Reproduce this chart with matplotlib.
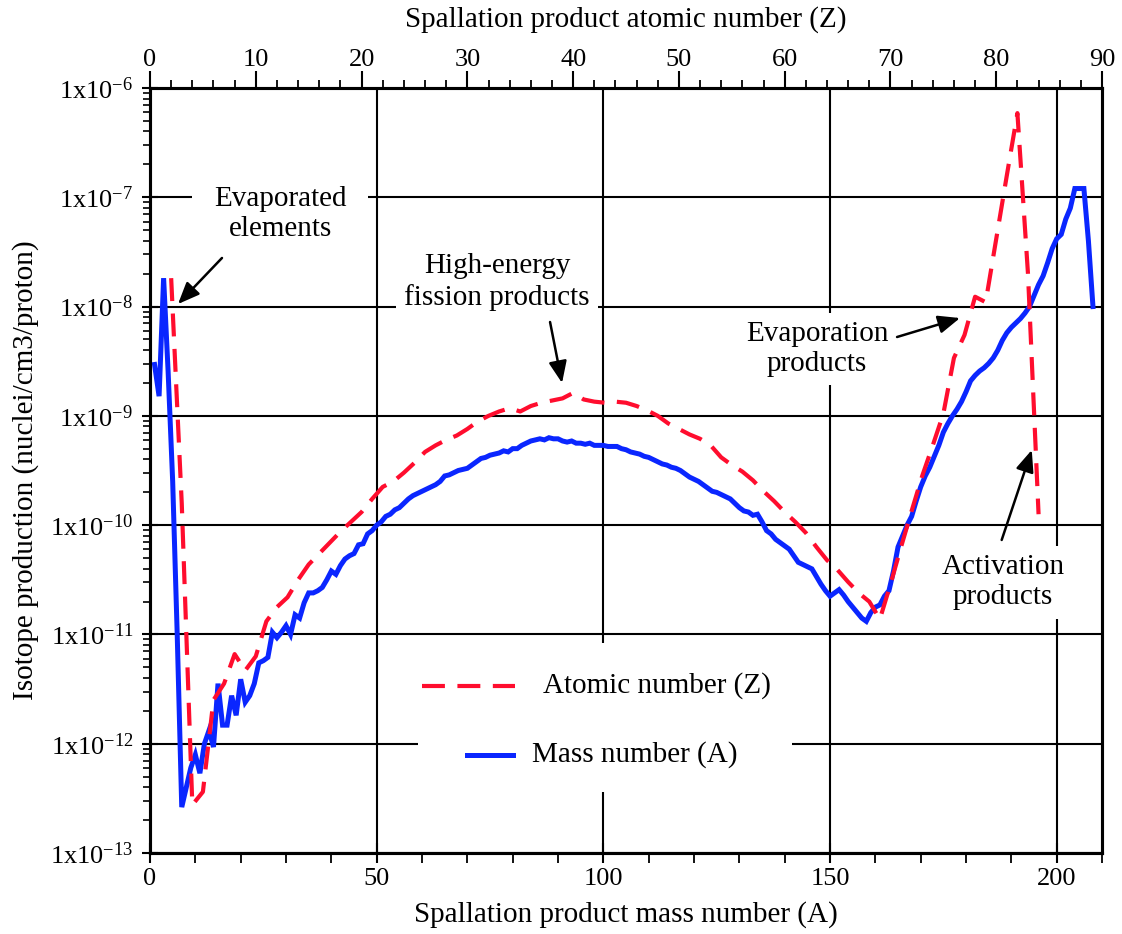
import numpy as np
import matplotlib
matplotlib.use("Agg")
import matplotlib.pyplot as plt
from matplotlib.ticker import FixedLocator, FixedFormatter, LogLocator, NullFormatter, MultipleLocator
from matplotlib.lines import Line2D
from matplotlib.patches import Rectangle

plt.rcParams['font.family'] = ['Liberation Serif', 'DejaVu Serif']
plt.rcParams['mathtext.fontset'] = 'custom'
plt.rcParams['mathtext.rm'] = 'Liberation Serif'
plt.rcParams['mathtext.it'] = 'Liberation Serif:italic'

# ---- data: log10 of isotope production (nuclei/cm3/proton) ----
mass_number = np.arange(1, 209)
mass_log10 = [
    -8.53, -8.82, -7.74, -8.60, -9.60, -11.00, -12.58, -12.40, -12.22, -12.10,
    -12.27, -12.00, -11.88, -12.03, -11.45, -11.83, -11.83, -11.56, -11.74, -11.41,
    -11.62, -11.56, -11.45, -11.26, -11.24, -11.21, -10.98, -11.03, -10.98, -10.92,
    -11.00, -10.82, -10.85, -10.71, -10.62, -10.62, -10.60, -10.57, -10.50, -10.42,
    -10.45, -10.37, -10.31, -10.28, -10.26, -10.18, -10.17, -10.08, -10.05, -10.00,
    -9.97, -9.92, -9.90, -9.86, -9.84, -9.80, -9.76, -9.73, -9.71, -9.69,
    -9.67, -9.65, -9.63, -9.60, -9.55, -9.54, -9.52, -9.50, -9.49, -9.48,
    -9.45, -9.42, -9.39, -9.38, -9.36, -9.35, -9.34, -9.32, -9.33, -9.30,
    -9.30, -9.27, -9.25, -9.23, -9.22, -9.21, -9.22, -9.20, -9.21, -9.21,
    -9.23, -9.24, -9.23, -9.25, -9.25, -9.26, -9.25, -9.27, -9.27, -9.27,
    -9.28, -9.28, -9.28, -9.30, -9.31, -9.33, -9.34, -9.35, -9.37, -9.38,
    -9.40, -9.42, -9.44, -9.45, -9.47, -9.48, -9.50, -9.53, -9.56, -9.58,
    -9.60, -9.63, -9.66, -9.69, -9.70, -9.72, -9.74, -9.76, -9.80, -9.84,
    -9.87, -9.88, -9.91, -9.90, -9.97, -10.05, -10.08, -10.13, -10.16, -10.19,
    -10.22, -10.28, -10.34, -10.36, -10.38, -10.40, -10.47, -10.54, -10.60, -10.65,
    -10.62, -10.59, -10.64, -10.70, -10.75, -10.80, -10.85, -10.88, -10.80, -10.75,
    -10.73, -10.65, -10.60, -10.42, -10.20, -10.10, -10.00, -9.92, -9.78, -9.65,
    -9.55, -9.47, -9.37, -9.27, -9.15, -9.07, -9.00, -8.94, -8.87, -8.78,
    -8.68, -8.63, -8.59, -8.56, -8.52, -8.47, -8.40, -8.31, -8.24, -8.19,
    -8.15, -8.11, -8.06, -8.00, -7.90, -7.80, -7.72, -7.60, -7.47, -7.38,
    -7.34, -7.20, -7.10, -6.92, -6.92, -6.92, -7.40, -8.00,
]

atomic_number = np.arange(2, 85)
atomic_log10 = [
    -7.74, -9.80, -12.56, -12.44, -11.60, -11.45, -11.18, -11.33, -11.20,
    -10.88, -10.75, -10.66, -10.50, -10.36, -10.26, -10.16, -10.06, -9.97, -9.88,
    -9.76, -9.65, -9.60, -9.52, -9.43, -9.33, -9.27, -9.22, -9.18, -9.12,
    -9.05, -9.00, -8.96, -8.93, -8.96, -8.91, -8.88, -8.86, -8.84, -8.79,
    -8.85, -8.87, -8.88, -8.87, -8.88, -8.91, -8.95, -9.00, -9.07, -9.12,
    -9.17, -9.21, -9.27, -9.38, -9.45, -9.51, -9.59, -9.69, -9.78, -9.88,
    -9.97, -10.07, -10.20, -10.32, -10.41, -10.52, -10.62, -10.70, -10.86, -10.54,
    -10.20, -9.87, -9.55, -9.27, -8.98, -8.47, -8.26, -7.91, -7.96, -7.38,
    -6.80, -6.23, -7.70, -9.90,
]

decades = np.arange(-13, -5)
y_tick_labels = [r'$\mathregular{1x10^{%d}}$' % d for d in decades]
a_ticks = [0, 50, 100, 150, 200]
z_ticks = list(range(0, 91, 10))

mass_values = 10.0 ** np.asarray(mass_log10)
atomic_values = 10.0 ** np.asarray(atomic_log10)

RED = '#ff0d2e'
BLUE = '#0a26ff'

fig = plt.figure(figsize=(11.22, 9.34), dpi=100)
ax = fig.add_axes([0.1337, 0.0867, 0.8485, 0.8191])

ax.set_yscale('log')
ax.set_ylim(1e-13, 1e-6)
ax.set_xlim(0, 210)
ax.yaxis.set_major_locator(FixedLocator(10.0 ** decades))
ax.yaxis.set_major_formatter(FixedFormatter(y_tick_labels))
ax.yaxis.set_minor_locator(LogLocator(base=10, subs=np.arange(2, 10), numticks=20))
ax.yaxis.set_minor_formatter(NullFormatter())
ax.xaxis.set_major_locator(FixedLocator(a_ticks))
ax.xaxis.set_minor_locator(MultipleLocator(10))

ax.grid(True, which='major', color='black', lw=1.5, zorder=0)
ax.set_axisbelow(True)

for sp in ax.spines.values():
    sp.set_linewidth(2.2)

ax.tick_params(axis='x', which='major', direction='inout', length=14, width=1.5,
               labelsize=19, pad=4, top=False)
ax.tick_params(axis='x', which='minor', direction='out', length=7, width=1.3, top=False)
ax.tick_params(axis='y', which='major', direction='inout', length=12, width=1.5,
               labelsize=19, pad=6, right=False)
ax.tick_params(axis='y', which='minor', direction='out', length=5, width=1.2, right=False)

ax.set_xlabel('Spallation product mass number (A)', fontsize=21, labelpad=8)
ax.set_ylabel('Isotope production (nuclei/cm3/proton)', fontsize=21, labelpad=8)

ax.plot(mass_number, mass_values, color=BLUE, lw=3.6, solid_joinstyle='miter', zorder=3)

ax2 = ax.twiny()
ax2.set_xlim(0, 90)
ax2.xaxis.set_major_locator(FixedLocator(z_ticks))
ax2.xaxis.set_minor_locator(MultipleLocator(2))
ax2.tick_params(axis='x', which='major', direction='out', length=12, width=1.5,
                labelsize=19, pad=0)
ax2.tick_params(axis='x', which='minor', direction='out', length=6, width=1.3)
ax2.set_xlabel('Spallation product atomic number (Z)', fontsize=21, labelpad=16)
for sp in ax2.spines.values():
    sp.set_linewidth(2.2)

ax2.plot(atomic_number, atomic_values, color=RED, lw=3.0, dashes=(5.5, 3.0), zorder=3)

# ---- annotations ----
box = dict(facecolor='white', edgecolor='none', pad=6)
wide_box = dict(facecolor='white', edgecolor='none', pad=16)
arrow = dict(arrowstyle='-|>,head_length=0.6,head_width=0.25', color='black',
             lw=1.8, mutation_scale=22, shrinkA=0, shrinkB=0)
tfs = 21

ax2.text(0.1366, 0.8353, 'Evaporated\nelements', transform=ax2.transAxes, fontsize=tfs,
         ha='center', va='center', multialignment='center', bbox=wide_box, zorder=4)
ax2.annotate('', xy=(0.0294, 0.7176), xytext=(0.0756, 0.7778),
             xycoords='axes fraction', textcoords='axes fraction', arrowprops=arrow, zorder=5)

ax2.text(0.3645, 0.7464, 'High-energy\nfission products', transform=ax2.transAxes, fontsize=tfs,
         ha='center', va='center', multialignment='center', bbox=box, zorder=4)
ax2.annotate('', xy=(0.4328, 0.6144), xytext=(0.4202, 0.6941),
             xycoords='axes fraction', textcoords='axes fraction', arrowprops=arrow, zorder=5)

ax2.text(0.7006, 0.6588, 'Evaporation\nproducts', transform=ax2.transAxes, fontsize=tfs,
         ha='center', va='center', multialignment='center', bbox=box, zorder=4)
ax2.annotate('', xy=(0.8508, 0.6993), xytext=(0.7847, 0.6745),
             xycoords='axes fraction', textcoords='axes fraction', arrowprops=arrow, zorder=5)

ax2.text(0.8960, 0.3542, 'Activation\nproducts', transform=ax2.transAxes, fontsize=tfs,
         ha='center', va='center', multialignment='center', bbox=box, zorder=4)
ax2.annotate('', xy=(0.9262, 0.5268), xytext=(0.8946, 0.4092),
             xycoords='axes fraction', textcoords='axes fraction', arrowprops=arrow, zorder=5)

# ---- legend ----
ax2.add_patch(Rectangle((0.2815, 0.0797), 0.3929, 0.1948, transform=ax2.transAxes,
                        facecolor='white', edgecolor='none', zorder=6))
ax2.add_line(Line2D([0.2854, 0.3834], [0.2183, 0.2183], transform=ax2.transAxes,
                    color=RED, lw=3.0, dashes=(5.5, 3.0), zorder=7))
ax2.text(0.4128, 0.2183, 'Atomic number (Z)', transform=ax2.transAxes, fontsize=tfs,
         ha='left', va='center', zorder=7)
ax2.add_line(Line2D([0.3327, 0.3816], [0.1281, 0.1281], transform=ax2.transAxes,
                    color=BLUE, lw=3.6, zorder=7))
ax2.text(0.4009, 0.1281, 'Mass number (A)', transform=ax2.transAxes, fontsize=tfs,
         ha='left', va='center', zorder=7)

fig.savefig('out.png', dpi=100, facecolor='white')
